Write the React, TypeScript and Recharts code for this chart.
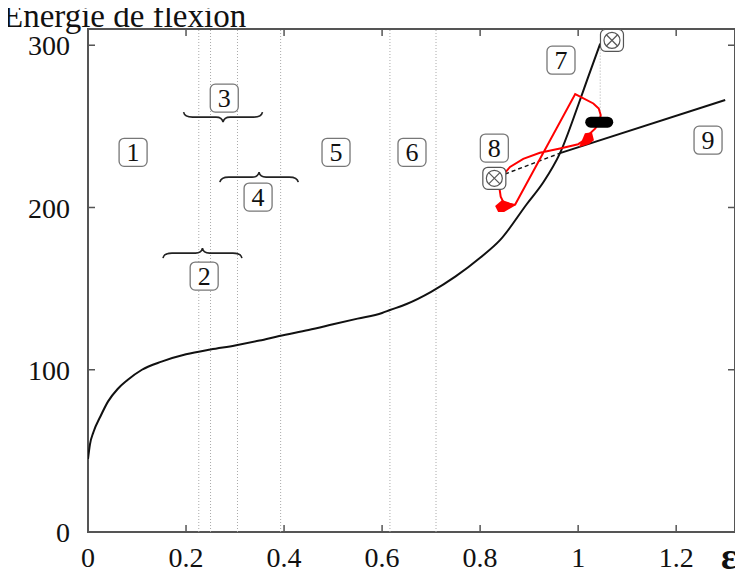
import React from 'react';
import { ComposedChart, Line, Scatter, XAxis, YAxis, ReferenceLine, ReferenceArea } from 'recharts';

const xTicks = [0, 0.2, 0.4, 0.6, 0.8, 1, 1.2];
const yTicks = [0, 100, 200, 300];

// bending energy vs strain
const energyCurve = [
  { x: 0, y: 45 }, { x: 0.004, y: 54 }, { x: 0.011, y: 61.5 }, { x: 0.025, y: 71 }, { x: 0.041, y: 80.5 },
  { x: 0.06, y: 88 }, { x: 0.08, y: 93.5 }, { x: 0.11, y: 100 }, { x: 0.15, y: 105 }, { x: 0.2, y: 109.5 },
  { x: 0.25, y: 112.5 }, { x: 0.3, y: 115 }, { x: 0.35, y: 118 }, { x: 0.39, y: 120.8 }, { x: 0.45, y: 124.5 },
  { x: 0.5, y: 128 }, { x: 0.55, y: 131.5 }, { x: 0.6, y: 135 }, { x: 0.616, y: 136.8 }, { x: 0.65, y: 140.5 },
  { x: 0.7, y: 148 }, { x: 0.75, y: 157.5 }, { x: 0.8, y: 169 }, { x: 0.841, y: 180 }, { x: 0.895, y: 202 },
  { x: 0.93, y: 216 }, { x: 0.963, y: 233.5 }, { x: 1.0, y: 263 }, { x: 1.02, y: 280 }, { x: 1.045, y: 301 },
];

const branch9 = [{ x: 0.963, y: 233.5 }, { x: 1.3, y: 266.2 }];
const branch9Dashed = [{ x: 0.851, y: 220.6 }, { x: 0.963, y: 233.5 }];

const redLoop = [
  { x: 0.871, y: 201.5 }, { x: 0.994, y: 269.9 }, { x: 1.031, y: 264.1 }, { x: 1.042, y: 261 },
  { x: 1.046, y: 257 }, { x: 1.044, y: 253 }, { x: 1.035, y: 248.7 }, { x: 1.024, y: 245.6 },
  { x: 1.021, y: 243 }, { x: 1.0, y: 239 }, { x: 0.963, y: 236.4 }, { x: 0.922, y: 233.7 },
  { x: 0.888, y: 230 }, { x: 0.861, y: 225 }, { x: 0.844, y: 219 }, { x: 0.839, y: 212.8 },
  { x: 0.842, y: 206.6 }, { x: 0.848, y: 203 }, { x: 0.871, y: 201.5 },
];

const regionBounds = [0.226, 0.25, 0.305, 0.393, 0.616, 0.71];

const regionLabels = [
  { x: 0.092, y: 234, label: '1' },
  { x: 0.237, y: 157.7, label: '2' },
  { x: 0.278, y: 267.4, label: '3' },
  { x: 0.347, y: 206.4, label: '4' },
  { x: 0.506, y: 234, label: '5' },
  { x: 0.661, y: 234, label: '6' },
  { x: 0.965, y: 290.8, label: '7' },
  { x: 0.829, y: 236.6, label: '8' },
  { x: 1.265, y: 241.5, label: '9' },
];

const braces = [
  { x0: 0.195, x1: 0.356, y: 255.7, dir: 'down' },
  { x0: 0.269, x1: 0.429, y: 218.7, dir: 'up' },
  { x0: 0.153, x1: 0.314, y: 171.9, dir: 'up' },
];

const crossMarks = [{ x: 1.069, y: 303 }, { x: 0.829, y: 218 }];
const redHeads = [{ x: 0.853, y: 200.9, side: 'left' }, { x: 1.02, y: 241.5, side: 'right' }];
const pillMark = [{ x: 1.043, y: 252.6 }];
const dropLine = { x: 1.045, y0: 256, y1: 298 };

const PLOT_W = 647;
const PLOT_H = 503;
const X_MARGIN = 15;
const Y_MARGIN = 18;
const FONT = '"Liberation Serif", "DejaVu Serif", serif';

const XTick = (props: any) => {
  const { x, y, payload } = props;
  const axisY = y - X_MARGIN;
  const v = payload.value;
  return (
    <g>
      {v !== 0 && <line x1={x} x2={x} y1={axisY} y2={axisY - 7} stroke="#555" strokeWidth={1.5} />}
      {v !== 0 && <line x1={x} x2={x} y1={axisY - PLOT_H} y2={axisY - PLOT_H + 7} stroke="#555" strokeWidth={1.5} />}
      <text x={x} y={y} dy="0.71em" textAnchor="middle" fontFamily={FONT} fontSize={28} fill="#111">{String(v)}</text>
    </g>
  );
};

const YTick = (props: any) => {
  const { x, y, payload } = props;
  const axisX = x + Y_MARGIN;
  const v = payload.value;
  return (
    <g>
      {v !== 0 && <line x1={axisX} x2={axisX + 7} y1={y} y2={y} stroke="#555" strokeWidth={1.5} />}
      {v !== 0 && <line x1={axisX + PLOT_W - 7} x2={axisX + PLOT_W} y1={y} y2={y} stroke="#555" strokeWidth={1.5} />}
      <text x={x} y={y} dy="0.36em" textAnchor="end" fontFamily={FONT} fontSize={28} fill="#111">{String(v)}</text>
    </g>
  );
};

const BoxLabel = (props: any) => {
  const { cx, cy, payload } = props;
  return (
    <g>
      <rect x={cx - 14} y={cy - 14} width={28} height={28} rx={5} fill="#fff" stroke="#777" strokeWidth={1.3} />
      <text x={cx} y={cy} dy="0.35em" textAnchor="middle" fontFamily={FONT} fontSize={26} fill="#111">{payload.label}</text>
    </g>
  );
};

const CrossMark = (props: any) => {
  const { cx, cy } = props;
  return (
    <g stroke="#555" strokeWidth={1.2} fill="none">
      <rect x={cx - 11.5} y={cy - 11} width={23} height={22} rx={5} fill="#fff" />
      <circle cx={cx} cy={cy} r={8} />
      <line x1={cx - 5.6} y1={cy - 5.6} x2={cx + 5.6} y2={cy + 5.6} />
      <line x1={cx - 5.6} y1={cy + 5.6} x2={cx + 5.6} y2={cy - 5.6} />
    </g>
  );
};

const RedHead = (props: any) => {
  const { cx, cy, payload } = props;
  const pts = payload.side === 'left'
    ? [[-11, 0], [-4, -6], [10, -1], [-2, 6], [-8, 6]]
    : [[-3, -7], [4, -8], [6, 0], [1, 4], [-9, 7]];
  return <polygon points={pts.map(([a, b]) => `${cx + a},${cy + b}`).join(' ')} fill="#ff0000" />;
};

const Pill = (props: any) => {
  const { cx, cy } = props;
  return <rect x={cx - 14} y={cy - 5.5} width={28} height={11} rx={5.5} fill="#000" />;
};

const Brace = (dir: string) => (props: any) => {
  const { x1, x2, y1 } = props;
  const s = dir === 'down' ? 1 : -1;
  const y = y1;
  const xm = (x1 + x2) / 2;
  const d = `M ${x1} ${y - 5 * s} Q ${x1 + 1} ${y} ${x1 + 9} ${y} L ${xm - 7} ${y} Q ${xm - 1} ${y} ${xm} ${y + 5 * s} Q ${xm + 1} ${y} ${xm + 7} ${y} L ${x2 - 9} ${y} Q ${x2 - 1} ${y} ${x2} ${y - 5 * s}`;
  return <path d={d} fill="none" stroke="#222" strokeWidth={1.6} />;
};

const yTitle = () => (
  <text x={3} y={27} fontFamily={FONT} fontSize={33} fill="#111">Energie de flexion</text>
);

const xTitle = () => (
  <text x={729} y={569} textAnchor="middle" fontFamily={FONT} fontSize={37} fontWeight="bold" fill="#111">ε</text>
);

export default function App() {
  return (
    <div style={{ width: 743, height: 583, margin: '-8px 0 0 -8px', background: '#fff' }}>
      <ComposedChart width={743} height={583} margin={{ top: 29, right: 8, left: 0, bottom: 0 }}>
        <XAxis type="number" dataKey="x" domain={[0, 1.32]} ticks={xTicks} interval={0} allowDataOverflow
          height={51} tickSize={0} tickMargin={X_MARGIN} axisLine={false} tickLine={false}
          tick={(p: any) => <XTick {...p} />} label={xTitle} />
        <YAxis type="number" domain={[0, 310]} ticks={yTicks} interval={0} allowDataOverflow
          width={88} tickSize={0} tickMargin={Y_MARGIN} axisLine={false} tickLine={false}
          tick={(p: any) => <YTick {...p} />} label={yTitle} />
        <ReferenceArea x1={0} x2={1.32} y1={0} y2={310} fill="none" stroke="#555" strokeWidth={2} fillOpacity={0} />
        {regionBounds.map((b) => (
          <ReferenceLine key={b} x={b} stroke="#aaa" strokeWidth={1} strokeDasharray="1 2" />
        ))}
        <ReferenceLine segment={[{ x: dropLine.x, y: dropLine.y0 }, { x: dropLine.x, y: dropLine.y1 }]}
          stroke="#aaa" strokeWidth={1} strokeDasharray="1 2" />
        {braces.map((b, i) => (
          <ReferenceLine key={i} segment={[{ x: b.x0, y: b.y }, { x: b.x1, y: b.y }]} shape={Brace(b.dir)} />
        ))}
        <Line data={energyCurve} dataKey="y" type="monotone" stroke="#111" strokeWidth={2} dot={false} activeDot={false} isAnimationActive={false} />
        <Line data={branch9} dataKey="y" type="linear" stroke="#111" strokeWidth={2} dot={false} activeDot={false} isAnimationActive={false} />
        <Line data={branch9Dashed} dataKey="y" type="linear" stroke="#111" strokeWidth={1.5} strokeDasharray="4 3" dot={false} activeDot={false} isAnimationActive={false} />
        <Line data={redLoop} dataKey="y" type="linear" stroke="#ff0000" strokeWidth={2} dot={false} activeDot={false} isAnimationActive={false} />
        <Scatter data={redHeads} dataKey="y" shape={RedHead} isAnimationActive={false} />
        <Scatter data={pillMark} dataKey="y" shape={Pill} isAnimationActive={false} />
        <Scatter data={crossMarks} dataKey="y" shape={CrossMark} isAnimationActive={false} />
        <Scatter data={regionLabels} dataKey="y" shape={BoxLabel} isAnimationActive={false} />
      </ComposedChart>
    </div>
  );
}
